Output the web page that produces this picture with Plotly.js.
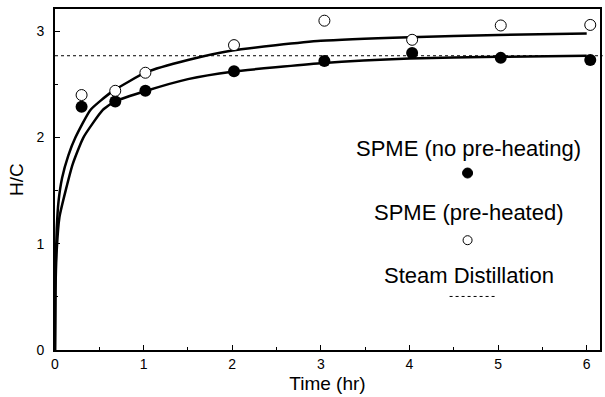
<!DOCTYPE html>
<html>
<head>
<meta charset="utf-8">
<script src="https://cdn.plot.ly/plotly-3.0.1.min.js"></script>
<style>html,body{margin:0;padding:0;background:#fff}#chart{width:605px;height:397px}</style>
</head>
<body>
<div id="chart"></div>
<script>
// Measured points
const time = [0.3, 0.68, 1.02, 2.02, 3.04, 4.03, 5.03, 6.04];
const noPreheat = [2.29, 2.34, 2.44, 2.625, 2.72, 2.795, 2.75, 2.73];
const preheated = [2.40, 2.44, 2.61, 2.87, 3.10, 2.92, 3.055, 3.06];

// Fitted curves
const fitNoX = [0, 0.005, 0.02, 0.05, 0.12, 0.2, 0.32, 0.54, 0.68, 1.03, 1.5, 2, 3, 4, 5, 6];
const fitNoY = [0, 0.55, 0.95, 1.25, 1.5, 1.75, 2.0, 2.26, 2.34, 2.44, 2.55, 2.62, 2.70, 2.745, 2.76, 2.77];
const fitPreX = [0, 0.005, 0.02, 0.04, 0.08, 0.15, 0.23, 0.4, 0.64, 1.03, 1.5, 2, 3, 4, 5, 6];
const fitPreY = [0, 0.7, 1.15, 1.4, 1.62, 1.83, 2.0, 2.26, 2.43, 2.615, 2.73, 2.82, 2.91, 2.945, 2.965, 2.98];

// Steam distillation reference
const steam = 2.77;

const legendLabels = ["SPME (no pre-heating)", "SPME (pre-heated)", "Steam Distillation"];

const F = "Liberation Sans, Arial, sans-serif";

const traces = [
  {x: fitNoX, y: fitNoY, mode: "lines", line: {color: "#000", width: 2.5, shape: "spline", smoothing: 0.5}, hoverinfo: "skip"},
  {x: fitPreX, y: fitPreY, mode: "lines", line: {color: "#000", width: 2.5, shape: "spline", smoothing: 0.5}, hoverinfo: "skip"},
  {x: time, y: noPreheat, mode: "markers", marker: {symbol: "circle", size: 12, color: "#000"}},
  {x: time, y: preheated, mode: "markers", marker: {symbol: "circle", size: 11, color: "#fff", line: {color: "#000", width: 1}}}
];

const layout = {
  width: 605, height: 397,
  margin: {l: 55, r: 5, t: 9, b: 47},
  showlegend: false,
  paper_bgcolor: "#fff", plot_bgcolor: "#fff",
  font: {family: F, color: "#000"},
  xaxis: {
    range: [0, 6.15], tickvals: [0,1,2,3,4,5,6], ticks: "inside", ticklen: 5, tickwidth: 1, tickcolor: "#000",
    minor: {dtick: 0.5, tick0: 0, ticks: "inside", ticklen: 3, tickcolor: "#000"},
    showgrid: false, zeroline: false, showline: true, linewidth: 2, linecolor: "#000", mirror: true,
    tickfont: {size: 14, family: F},
    title: {text: "Time (hr)", font: {size: 19, family: F}, standoff: 6}
  },
  yaxis: {
    range: [0, 3.21], tickvals: [0,1,2,3], ticks: "inside", ticklen: 5, tickwidth: 1, tickcolor: "#000",
    minor: {dtick: 0.5, tick0: 0, ticks: "inside", ticklen: 3, tickcolor: "#000"},
    showgrid: false, zeroline: false, showline: true, linewidth: 2, linecolor: "#000", mirror: true,
    tickfont: {size: 14, family: F}, ticklabelstandoff: 6,
    title: {text: "H/C", font: {size: 19, family: F}, standoff: 8}
  },
  shapes: [
    {type: "line", xref: "paper", yref: "y", x0: 0, x1: 1.005, y0: steam, y1: steam, line: {color: "#000", width: 1, dash: "dot"}},
    // legend symbols
    {type: "circle", xref: "paper", yref: "paper", xsizemode: "pixel", ysizemode: "pixel",
     xanchor: 0.757, yanchor: 0.519, x0: -5, x1: 5, y0: -5, y1: 5, fillcolor: "#000", line: {color: "#000", width: 1}},
    {type: "circle", xref: "paper", yref: "paper", xsizemode: "pixel", ysizemode: "pixel",
     xanchor: 0.757, yanchor: 0.322, x0: -4.5, x1: 4.5, y0: -4.5, y1: 4.5, fillcolor: "#fff", line: {color: "#000", width: 1}},
    {type: "line", xref: "paper", yref: "paper", x0: 0.724, x1: 0.811, y0: 0.157, y1: 0.157, line: {color: "#000", width: 1, dash: "dot"}}
  ],
  annotations: [
    {xref: "paper", yref: "paper", x: 0.759, y: 0.592, xanchor: "center", yanchor: "middle", text: legendLabels[0], showarrow: false, font: {size: 22, family: F}},
    {xref: "paper", yref: "paper", x: 0.759, y: 0.403, xanchor: "center", yanchor: "middle", text: legendLabels[1], showarrow: false, font: {size: 22, family: F}},
    {xref: "paper", yref: "paper", x: 0.759, y: 0.219, xanchor: "center", yanchor: "middle", text: legendLabels[2], showarrow: false, font: {size: 22, family: F}}
  ]
};

Plotly.newPlot("chart", traces, layout, {displayModeBar: false, staticPlot: true});
</script>
</body>
</html>
